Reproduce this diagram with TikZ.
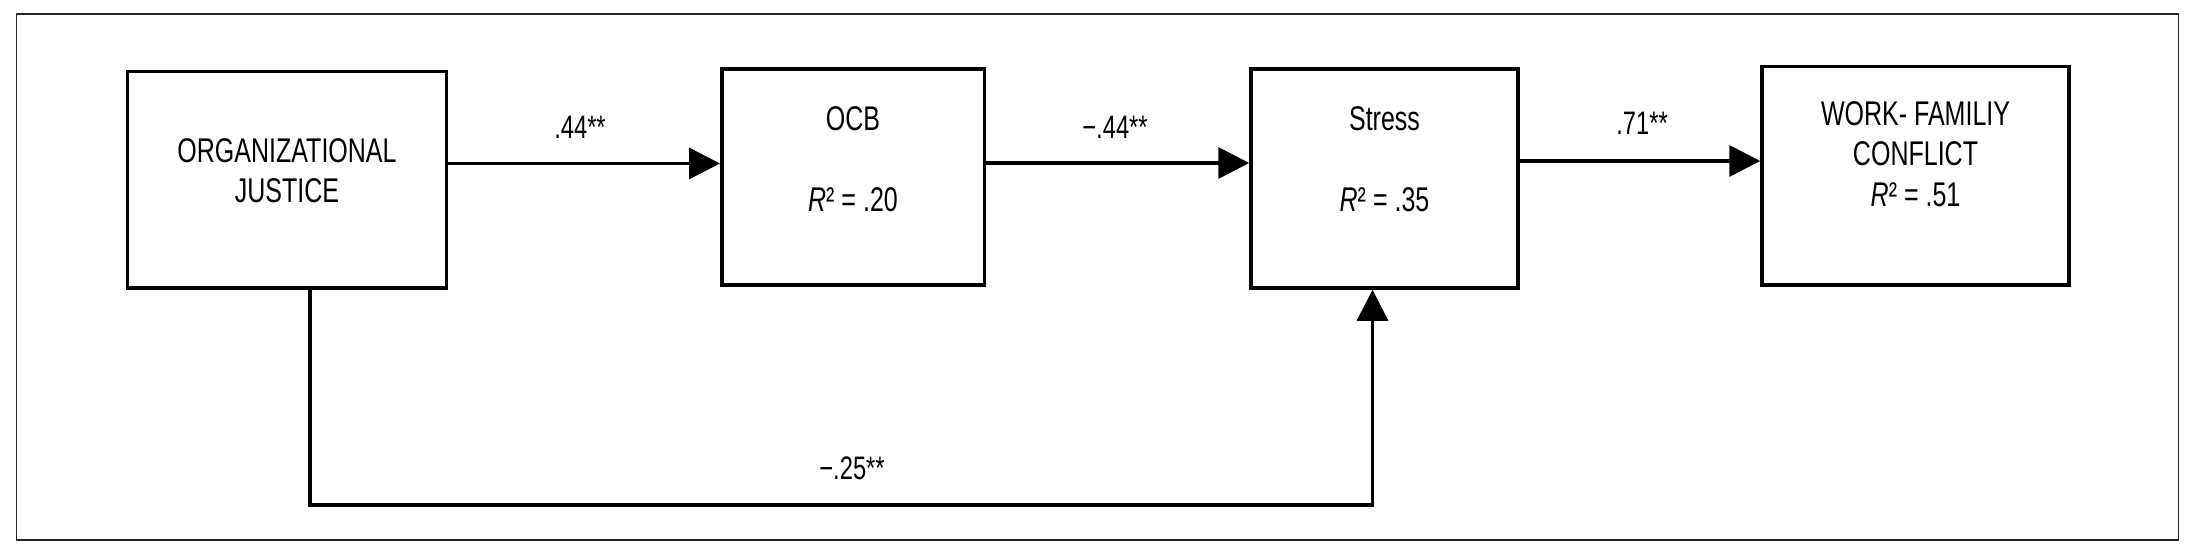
\documentclass[tikz,border=0pt]{standalone}
\usepackage{fontspec}
\setmainfont{Liberation Sans}[FakeStretch=0.73]
\usetikzlibrary{arrows.meta, positioning}

\begin{document}
\begin{tikzpicture}[>={Triangle[length=0.62cm, width=0.62cm]},
    varbox/.style={draw, line width=2pt, inner sep=0pt},
    boxtext/.style={align=center, font=\fontsize{19.5}{23}\selectfont},
    coef/.style={font=\fontsize{18.5}{22}\selectfont},
    flow/.style={->, line width=2.1pt}]
    \useasboundingbox (0,0) rectangle (43.82,11);

    % Outer frame
    \draw[line width=1.1pt, black!85] (0.33,0.20) rectangle (43.57,10.72);

    % Variable boxes
    \node[varbox, minimum width=6.38cm, minimum height=4.33cm] (justice) at (5.74,7.40) {};
    \node[varbox, minimum width=5.25cm, minimum height=4.32cm] (ocb) at (17.06,7.46) {};
    \node[varbox, minimum width=5.34cm, minimum height=4.38cm] (stress) at (27.69,7.43) {};
    \node[varbox, minimum width=6.14cm, minimum height=4.37cm] (wfc) at (38.31,7.48) {};

    % Box texts
    \node[boxtext] (justice-txt) at (5.74,7.59) {ORGANIZATIONAL\\JUSTICE};
    \node[boxtext] (ocb-txt) at (17.06,7.82) {OCB\\[23pt]\textit{R}² = .20};
    \node[boxtext] (stress-txt) at (27.69,7.82) {Stress\\[23pt]\textit{R}² = .35};
    \node[boxtext] (wfc-txt) at (38.31,7.92) {WORK- FAMILIY\\CONFLICT\\\textit{R}² = .51};

    % Path coefficients
    \node[coef] (c-jo) at (11.60,8.46) {.44**};
    \node[coef] (c-os) at (22.30,8.46) {−.44**};
    \node[coef] (c-sw) at (32.84,8.54) {.71**};
    \node[coef] (c-js) at (17.04,1.64) {−.25**};

    % Arrows between boxes
    \draw[flow] (justice.east |- 0,7.73) -- (ocb.west |- 0,7.73);
    \draw[flow] (ocb.east |- 0,7.74) -- (stress.west |- 0,7.74);
    \draw[flow] (stress.east |- 0,7.78) -- (wfc.west |- 0,7.78);

    % Direct path, under the boxes
    \coordinate (low) at (6.20,0.90);
    \draw[flow, line width=1.8pt] (justice.south -| low) -- (low) -| (stress.south -| 27.45,0);
\end{tikzpicture}
\end{document}
